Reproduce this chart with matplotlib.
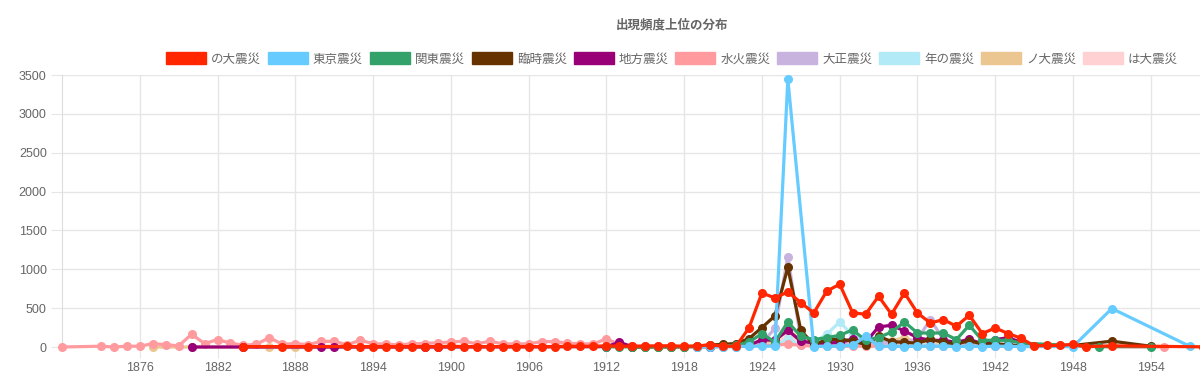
import matplotlib
matplotlib.use("Agg")
import matplotlib.pyplot as plt
from matplotlib.patches import Patch

plt.rcParams['font.family'] = ['Liberation Sans', 'Noto Sans CJK JP', 'DejaVu Sans']

# 系列ごとのデータ（年, 出現頻度）
labels = ["の大震災", "東京震災", "関東震災", "臨時震災", "地方震災",
          "水火震災", "大正震災", "年の震災", "ノ大震災", "は大震災"]
colors = ["#ff2600", "#66ccff", "#33a26a", "#663300", "#990077",
          "#ff9a9e", "#c8b2de", "#b3eaf8", "#ecc690", "#ffd1d3"]

red_years = [1884, 1887, 1889] + list(range(1892, 1950)) + [1951, 1958]
red_vals = [5, 5, 5, 8, 5, 5, 5, 5, 5, 5, 5, 10, 5, 5, 5, 5, 5, 5, 5, 5, 10,
            8, 10, 15, 10, 10, 12, 15, 15, 10, 12, 30, 10, 10, 245, 696, 631,
            709, 572, 438, 718, 808, 440, 421, 653, 421, 696, 438, 309, 353,
            267, 408, 173, 245, 173, 112, 15, 20, 20, 35, 5, 15, 2]

blue_years = list(range(1919, 1927)) + list(range(1928, 1945)) + [1948, 1951, 1957]
blue_vals = [0, 5, 5, 5, 10, 10, 10, 3446, 5, 10, 10, 20, 140, 10, 10, 5, 10,
             10, 10, 5, 10, 5, 10, 10, 5, 5, 495, 10]

green_years = list(range(1912, 1945)) + [1950, 1954]
green_vals = [0, 5, 0, 5, 0, 5, 5, 5, 10, 15, 20, 65, 170, 65, 322, 138, 95,
              121, 150, 220, 86, 121, 193, 322, 180, 180, 180, 95, 280, 86,
              86, 86, 50, 5, 5]

brown_years = list(range(1914, 1945)) + [1948, 1951, 1954]
brown_vals = [0, 0, 5, 0, 5, 10, 25, 35, 45, 108, 250, 400, 1023, 215, 30, 95,
              100, 80, 30, 138, 70, 60, 50, 100, 60, 40, 80, 40, 40, 30, 10,
              20, 75, 10]

purple_years = [1880, 1884, 1890, 1891, 1898, 1899, 1912, 1913, 1914, 1920,
                1923] + list(range(1924, 1945))
purple_vals = [0, 0, 0, 0, 0, 0, 5, 60, 5, 5, 20, 95, 85, 215, 77, 50, 50, 60,
               100, 60, 258, 280, 206, 121, 86, 86, 60, 100, 40, 95, 120, 60]

pink_years = [1870] + list(range(1873, 1945)) + [1955]
pink_vals = [0, 10, 0, 10, 10, 44, 30, 15, 164, 44, 95, 50, 22, 35, 121, 35,
             44, 30, 73, 73, 30, 86, 44, 35, 30, 40, 45, 55, 64, 75, 40, 75,
             40, 40, 40, 70, 70, 50, 40, 40, 105, 30, 10, 10, 10, 10, 5, 5,
             10, 10, 10, 20, 20, 20, 40, 20, 10, 10, 10, 10, 10, 10, 10, 10,
             10, 10, 10, 10, 10, 10, 10, 10, 10, 0]

lavender_years = list(range(1919, 1945))
lavender_vals = [0, 5, 5, 5, 20, 50, 240, 1160, 100, 30, 40, 40, 40, 40, 60,
                 60, 60, 100, 353, 100, 40, 60, 30, 40, 30, 20]

cyan_years = list(range(1919, 1945))
cyan_vals = [0, 0, 5, 5, 10, 30, 20, 100, 30, 60, 165, 322, 150, 100, 130, 60,
             40, 30, 30, 20, 20, 30, 20, 20, 20, 10]

tan_years = [1877, 1880, 1886, 1888] + list(range(1920, 1945))
tan_vals = [0, 0, 0, 0, 5, 5, 10, 30, 70, 60, 250, 60, 40, 60, 80, 50, 60,
            100, 80, 120, 60, 40, 40, 30, 40, 20, 30, 20, 10]

lpink_years = list(range(1919, 1945))
lpink_vals = [0, 0, 5, 5, 10, 40, 30, 150, 40, 30, 20, 30, 30, 20, 30, 20,
              20, 20, 20, 20, 10, 20, 10, 10, 10, 5]

series = [(red_years, red_vals), (blue_years, blue_vals),
          (green_years, green_vals), (brown_years, brown_vals),
          (purple_years, purple_vals), (pink_years, pink_vals),
          (lavender_years, lavender_vals), (cyan_years, cyan_vals),
          (tan_years, tan_vals), (lpink_years, lpink_vals)]

fig = plt.figure(figsize=(12, 3.78), dpi=100)
ax = fig.add_axes([62 / 1200, 1 - 347 / 378, 1 - 62 / 1200, (347 - 75) / 378])

# 先頭の系列が一番上に来るように描く
for i, ((xs, ys), c) in enumerate(zip(series, colors)):
    ax.plot(xs, ys, color=c, lw=2.3, marker='o', ms=5.5, mfc=c, mec=c,
            zorder=20 - i, clip_on=False)

ax.set_xlim(1870, 1957.8)
ax.set_ylim(0, 3500)
ax.set_xticks(range(1876, 1955, 6))
ax.set_yticks(range(0, 3501, 500))
ax.grid(True, color='#e6e6e6', lw=1)
ax.set_axisbelow(True)
for s in ['top', 'right', 'bottom']:
    ax.spines[s].set_visible(False)
ax.spines['left'].set_color('#dcdcdc')
ax.tick_params(length=8, color='#e6e6e6', labelcolor='#666666',
               labelsize=9, pad=3)

fig.text(0.56, 1 - 25 / 378, "出現頻度上位の分布", ha='center', va='center',
         fontsize=9, fontweight='bold', color='#666666')

handles = [Patch(facecolor=c, edgecolor=c) for c in colors]
fig.legend(handles, labels, loc='center', bbox_to_anchor=(0.56, 1 - 59 / 378),
           ncol=10, frameon=False, fontsize=9, handlelength=3.2,
           handleheight=1.1, handletextpad=0.4, columnspacing=0.55,
           labelcolor='#666666', borderpad=0)

fig.savefig("out.png", dpi=100)
